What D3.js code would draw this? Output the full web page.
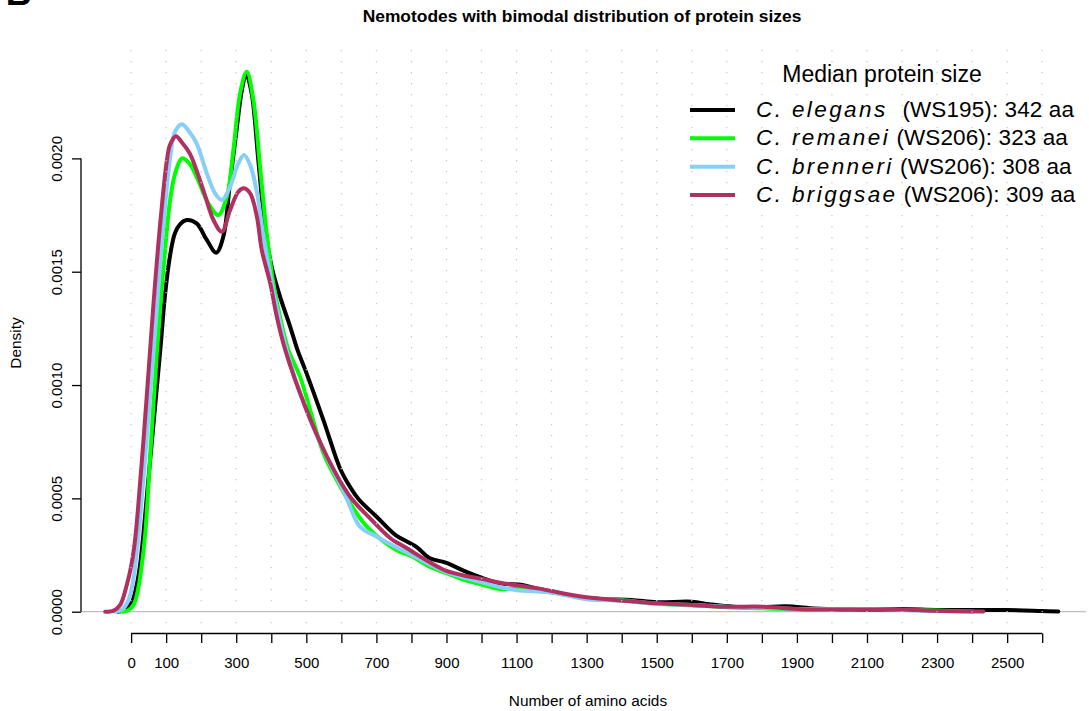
<!DOCTYPE html>
<html>
<head>
<meta charset="utf-8">
<script src="https://cdn.jsdelivr.net/npm/d3@7"></script>
<style>
  html, body { margin: 0; padding: 0; background: #fff; }
  svg { display: block; font-family: "Liberation Sans", Arial, Helvetica, sans-serif; }
</style>
</head>
<body>
<svg id="chart" width="1089" height="711"></svg>
<script>
// Smoothed density of protein lengths (number of amino acids) per species
const elegansSize = [-37, -15, 2, 15, 25, 35, 55, 83, 97, 111, 125, 140, 159, 187, 216, 243, 263, 282, 302, 316, 328, 344, 363, 382, 401, 425, 454, 475, 497, 550, 596, 625, 650, 700, 753, 815, 850, 900, 950, 1000, 1050, 1117, 1150, 1200, 1267, 1350, 1428, 1500, 1600, 1650, 1718, 1800, 1868, 1950, 2000, 2100, 2200, 2300, 2400, 2500, 2600, 2646];
const elegansDensity = [0, 0.00001, 0.00004, 0.00011, 0.0002, 0.00034, 0.00068, 0.00115, 0.0014, 0.00157, 0.00167, 0.00171, 0.001728, 0.001713, 0.00164, 0.001584, 0.001654, 0.00189, 0.00214, 0.0023, 0.002372, 0.002287, 0.001992, 0.001698, 0.001522, 0.00139, 0.001257, 0.001154, 0.001067, 0.00084, 0.000633, 0.00055, 0.000495, 0.00042, 0.00034, 0.000285, 0.000238, 0.000215, 0.00018, 0.00015, 0.000125, 0.000118, 0.000105, 0.00009, 0.000066, 0.000055, 0.000052, 0.000042, 0.000044, 0.000033, 0.000022, 0.00002, 0.000024, 0.000014, 0.000012, 0.00001, 0.000012, 0.000008, 0.000007, 0.000007, 0.000003, 0.000001];

const remaneiSize = [-31, -10, 7, 20, 30, 40, 55, 73, 87.5, 100, 110, 125, 145, 165, 187, 221, 249, 273, 292, 311, 330, 349, 368, 387, 406, 425, 449, 482, 549, 587, 625, 673, 757, 800, 850, 900, 950, 1000, 1050, 1100, 1200, 1300, 1400, 1500, 1600, 1700, 1800, 1900, 2000, 2100, 2200, 2300, 2403];
const remaneiDensity = [0, 0.000005, 0.00003, 0.0001, 0.0002, 0.00034, 0.0007, 0.00113, 0.00143, 0.00165, 0.0018, 0.00193, 0.002, 0.00198, 0.001919, 0.0018, 0.00175, 0.00183, 0.002037, 0.002287, 0.002382, 0.002257, 0.001963, 0.001669, 0.001449, 0.0013, 0.001154, 0.001037, 0.000699, 0.000581, 0.000478, 0.000375, 0.000272, 0.000245, 0.0002, 0.00017, 0.00014, 0.00012, 0.0001, 0.0001, 0.000085, 0.00006, 0.00005, 0.000035, 0.000028, 0.00002, 0.000015, 0.00001, 0.000012, 0.00001, 0.000008, 0.000005, 0.000001];

const brenneriSize = [-46, -25, -8, 5, 15, 25, 40, 64, 78, 94, 111, 126, 145, 165, 187, 216, 240, 259, 282.5, 306, 322, 340, 359, 378, 402, 444, 497, 559, 610, 625, 653, 701, 750, 800, 850, 900, 950, 1000, 1050, 1100, 1200, 1300, 1400, 1500, 1600, 1700, 1800, 1900, 2000, 2100, 2200, 2280];
const brenneriDensity = [0, 0.00001, 0.00005, 0.00013, 0.00025, 0.0004, 0.00068, 0.00115, 0.00143, 0.00174, 0.002, 0.00212, 0.002151, 0.00212, 0.002066, 0.001934, 0.001845, 0.001816, 0.001875, 0.001978, 0.002015, 0.00197, 0.00185, 0.001654, 0.001449, 0.001154, 0.0009, 0.00068, 0.00052, 0.000463, 0.000375, 0.000331, 0.00029, 0.00025, 0.00021, 0.000175, 0.00015, 0.00013, 0.00011, 0.000095, 0.000085, 0.000055, 0.000048, 0.000035, 0.00003, 0.000022, 0.000018, 0.000012, 0.00001, 0.000008, 0.000008, 0.000002];

const briggsaeSize = [-74, -50, -31, -12, 0, 10, 20, 35, 54, 68.5, 84.7, 102, 111, 128, 145, 168, 206, 235, 259, 282.5, 306, 322, 340, 359, 373, 397, 416, 440, 497, 559, 625, 682, 740, 787, 850, 900, 950, 1000, 1053, 1160, 1289, 1407, 1503, 1600, 1696, 1804, 1911, 2000, 2125, 2200, 2286, 2432];
const briggsaeDensity = [0, 0.000005, 0.00003, 0.00012, 0.0002, 0.0003, 0.00046, 0.00075, 0.00115, 0.00145, 0.00174, 0.00199, 0.00206, 0.002098, 0.00207, 0.00202, 0.00186, 0.001728, 0.001676, 0.001772, 0.001853, 0.001868, 0.001845, 0.001742, 0.001595, 0.001449, 0.0013, 0.001154, 0.000904, 0.000684, 0.000507, 0.000412, 0.000324, 0.00028, 0.00022, 0.00018, 0.00016, 0.000145, 0.000128, 0.000103, 0.000066, 0.0000485, 0.000037, 0.00003, 0.000022, 0.000022, 0.0000105, 0.00001, 0.000008, 0.00001, 0.000004, 0.000001];

// Legend entries
const speciesNames = ["C. elegans", "C. remanei", "C. brenneri", "C. briggsae"];
const releases = ["(WS195)", "(WS206)", "(WS206)", "(WS206)"];
const medianSizes = [342, 323, 308, 309];
const seriesColors = ["#000000", "#00ff00", "#87cefa", "#b03060"];

// Axis ticks
const xTicks = d3.range(0, 2601, 100);
const xTickLabels = [0, 100, 300, 500, 700, 900, 1100, 1300, 1500, 1700, 1900, 2100, 2300, 2500];
const yTicks = [0, 0.0005, 0.001, 0.0015, 0.002];

const series = [
  { size: elegansSize, density: elegansDensity },
  { size: remaneiSize, density: remaneiDensity },
  { size: brenneriSize, density: brenneriDensity },
  { size: briggsaeSize, density: briggsaeDensity }
];

const svg = d3.select("#chart");
const plotLeft = 81, plotRight = 1086, plotTop = 48, plotBottom = 633.5;

const x = d3.scaleLinear().domain([-143, 2725]).range([plotLeft, plotRight]);
const y = d3.scaleLinear().domain([-0.0000962, 0.002487]).range([plotBottom, plotTop]);

// Figure panel letter
svg.append("text")
  .attr("x", 5.7).attr("y", 4.5)
  .attr("font-size", 36).attr("font-weight", "bold")
  .text("B");

// Title
svg.append("text")
  .attr("x", 582).attr("y", 22.3)
  .attr("text-anchor", "middle")
  .attr("font-size", 17.4).attr("font-weight", "bold")
  .text("Nemotodes with bimodal distribution of protein sizes");

// Zero reference line
svg.append("line")
  .attr("x1", plotLeft).attr("x2", plotRight)
  .attr("y1", y(0)).attr("y2", y(0))
  .attr("stroke", "#bebebe").attr("stroke-width", 1.2);

// Density curves
const line = d3.line()
  .x(d => x(d[0]))
  .y(d => y(d[1]))
  .curve(d3.curveCatmullRom.alpha(0.5));

series.forEach((s, i) => {
  const pts = s.size.map((v, k) => [v, s.density[k]]);
  svg.append("path")
    .datum(pts)
    .attr("d", line)
    .attr("fill", "none")
    .attr("stroke", seriesColors[i])
    .attr("stroke-width", 4)
    .attr("stroke-linejoin", "round")
    .attr("stroke-linecap", "round");
});

// Dotted vertical grid
svg.append("g")
  .selectAll("line")
  .data(xTicks)
  .join("line")
  .attr("x1", d => x(d)).attr("x2", d => x(d))
  .attr("y1", 623.3).attr("y2", plotTop)
  .attr("stroke", "#c4c4c4")
  .attr("stroke-width", 1.2)
  .attr("stroke-dasharray", "1.2 9.8");

// X axis
const xAxis = d3.axisBottom(x)
  .tickValues(xTicks)
  .tickSize(9.5)
  .tickSizeOuter(0)
  .tickFormat(d => xTickLabels.includes(d) ? String(d) : "");
const gx = svg.append("g")
  .attr("transform", `translate(0,${plotBottom})`)
  .call(xAxis);
gx.select(".domain").attr("d", `M${x(0)},0H${x(2600)}`).attr("stroke-width", 1.3);
gx.selectAll(".tick line").attr("stroke-width", 1.3);
gx.selectAll(".tick text")
  .attr("y", 34.5).attr("dy", 0)
  .attr("font-size", 15)
  .attr("font-family", "Liberation Sans, Arial, sans-serif")
  .attr("fill", "#000");

// Y axis
const yAxis = d3.axisLeft(y)
  .tickValues(yTicks)
  .tickSize(9)
  .tickSizeOuter(0)
  .tickFormat(d3.format(".4f"));
const gy = svg.append("g")
  .attr("transform", `translate(${plotLeft},0)`)
  .call(yAxis);
gy.select(".domain").attr("d", `M0,${y(0)}V${y(0.002)}`).attr("stroke-width", 1.3);
gy.selectAll(".tick line").attr("stroke-width", 1.3);
gy.selectAll(".tick text")
  .attr("x", null).attr("dy", null)
  .attr("transform", "translate(-19.5,0) rotate(-90)")
  .attr("text-anchor", "middle")
  .attr("font-size", 15)
  .attr("font-family", "Liberation Sans, Arial, sans-serif")
  .attr("fill", "#000");

// Axis titles
svg.append("text")
  .attr("x", 588).attr("y", 706)
  .attr("text-anchor", "middle")
  .attr("font-size", 15.4)
  .text("Number of amino acids");

svg.append("text")
  .attr("transform", "translate(21,343) rotate(-90)")
  .attr("text-anchor", "middle")
  .attr("font-size", 15.4)
  .text("Density");

// Legend
const legend = svg.append("g");
legend.append("text")
  .attr("x", 882).attr("y", 82.3)
  .attr("text-anchor", "middle")
  .attr("font-size", 23)
  .text("Median protein size");

const rowY = [110, 138.3, 166.7, 195];
speciesNames.forEach((name, i) => {
  legend.append("line")
    .attr("x1", 690).attr("x2", 735)
    .attr("y1", rowY[i]).attr("y2", rowY[i])
    .attr("stroke", seriesColors[i])
    .attr("stroke-width", 4);
  const t = legend.append("text")
    .attr("x", 756).attr("y", rowY[i] + 7)
    .attr("font-size", 22.5);
  t.append("tspan")
    .attr("font-style", "italic")
    .attr("letter-spacing", 2.4)
    .text(name);
  t.append("tspan")
    .attr("dx", i === 0 ? 8.5 : 0)
    .attr("letter-spacing", 0.1)
    .text(" " + releases[i] + ": " + medianSizes[i] + " aa");
});
</script>
</body>
</html>
